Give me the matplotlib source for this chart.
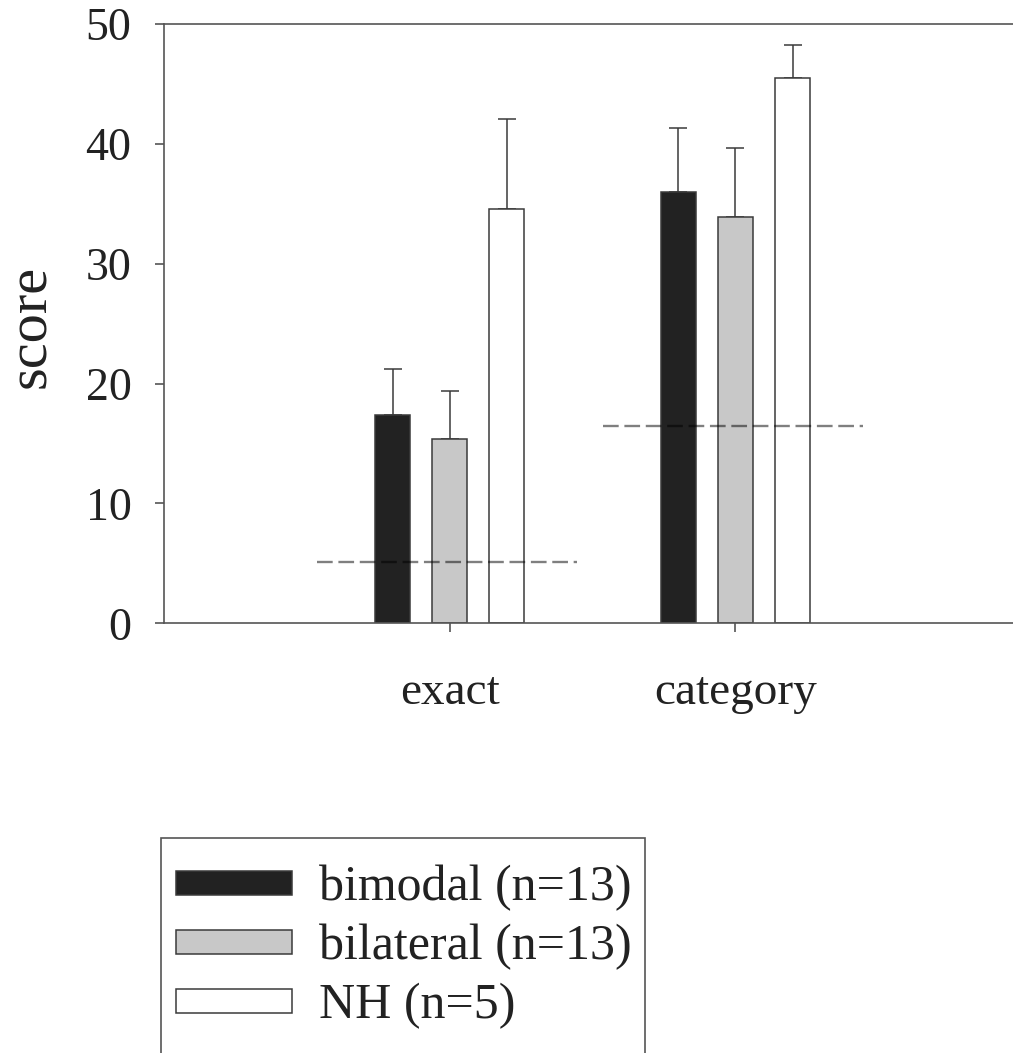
import matplotlib
matplotlib.use("Agg")
import matplotlib.pyplot as plt
from matplotlib.patches import Rectangle
import numpy as np

# Scores per condition and group
conditions = ["exact", "category"]
groups = ["bimodal (n=13)", "bilateral (n=13)", "NH (n=5)"]
means = {
    "bimodal (n=13)":   [17.4, 36.0],
    "bilateral (n=13)": [15.4, 33.9],
    "NH (n=5)":         [34.6, 45.5],
}
errors = {
    "bimodal (n=13)":   [3.8, 5.35],
    "bilateral (n=13)": [4.0, 5.75],
    "NH (n=5)":         [7.5, 2.7],
}
chance = [5.15, 16.5]

fills = ["#222222", "#c8c8c8", "#ffffff"]
EDGE = "#3a3a3a"

plt.rcParams["font.family"] = ["Liberation Serif", "DejaVu Serif"]
plt.rcParams["lines.scale_dashes"] = False

fig = plt.figure(figsize=(10.13, 10.53), dpi=100)
ax = fig.add_axes([0.162, 0.408, 0.846, 0.5693])

x = np.arange(1, len(conditions) + 1)
width = 0.1225
offsets = [-0.2, 0.0, 0.2]

handles = []
for g, col, off in zip(groups, fills, offsets):
    b = ax.bar(x + off, means[g], width, color=col, edgecolor=EDGE,
               linewidth=1.1, label=g, zorder=2)
    ax.errorbar(x + off, means[g], yerr=[np.zeros(len(x)), errors[g]],
                fmt="none", ecolor=EDGE, elinewidth=1.1, capsize=6.5,
                capthick=1.1, zorder=1)
    handles.append(b)

# chance level per condition
for xi, c in zip(x, chance):
    ax.plot([xi - 0.465, xi + 0.445], [c, c], color="black", alpha=0.5,
            linewidth=1.7, dashes=(11.3, 4.1), zorder=3)

ax.set_xlim(0, 3)
ax.set_ylim(0, 50)
ax.set_yticks(range(0, 51, 10))
ax.set_xticks(x)
ax.set_xticklabels(conditions)

ax.spines["right"].set_visible(False)
for s in ["left", "bottom", "top"]:
    ax.spines[s].set_color("#555555")
    ax.spines[s].set_linewidth(1.2)

ax.tick_params(axis="y", direction="out", length=6.5, width=1.2,
               color="#555555", labelsize=33, pad=17, labelcolor="#222222")
ax.tick_params(axis="x", direction="out", length=6.5, width=1.2,
               color="#555555", labelsize=34, pad=28, labelcolor="#222222")

ax.set_ylabel("score", fontsize=42, color="#222222", va="center")
ax.yaxis.set_label_coords(-0.155, 0.496)

leg = fig.legend(handles=handles, labels=groups, loc="upper left",
                 bbox_to_anchor=(0.1586, 1 - 850 / 1053), frameon=False,
                 fontsize=36, handlelength=2.32, handleheight=0.36,
                 handletextpad=0.54, labelspacing=0.25, borderaxespad=0,
                 borderpad=0.3)
for t in leg.get_texts():
    t.set_color("#222222")

fig.patches.append(Rectangle((160.7 / 1013, -0.05), (645 - 160.7) / 1013,
                             1 - 838 / 1053 + 0.05, transform=fig.transFigure,
                             fill=False, edgecolor="#555555", linewidth=1.2))

fig.savefig("out.png", dpi=100)
